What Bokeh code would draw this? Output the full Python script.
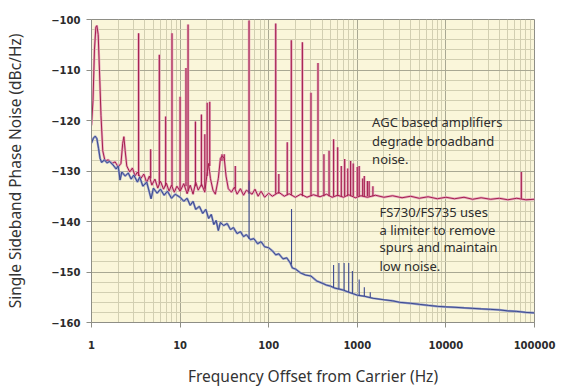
from bokeh.plotting import figure
from bokeh.models import FixedTicker, NumeralTickFormatter, Label
from bokeh.embed import file_html
from bokeh.resources import INLINE

# ---- data ----
agc_freq = [1.0, 1.04, 1.08, 1.12, 1.15, 1.19, 1.23, 1.28, 1.34, 1.42, 1.55, 1.7, 1.85, 2.0, 2.15,
            2.25, 2.32, 2.4, 2.5, 2.7, 2.9, 3.1, 3.3, 3.6, 3.9, 4.2, 4.5, 4.8, 5.2, 5.6, 6.0, 6.5,
            7.0, 7.5, 8.0, 8.6, 9.2, 10, 11, 12, 13, 14, 15, 16, 17.5, 19, 20, 21, 22, 23.5, 25,
            27, 28.5, 30, 31.5, 33, 35, 38, 41, 44, 48, 52, 56, 65, 70, 76, 82, 90, 100, 110, 130,
            150, 170, 200, 230, 270, 320, 380, 450, 520, 600, 700, 800, 950, 1100, 1300, 1600,
            2000, 2500, 3200, 4000, 5000, 6300, 8000, 10000, 12500, 16000, 20000, 25000, 32000,
            40000, 50000, 63000, 80000, 100000]
agc_db = [-121, -116, -106, -101.5, -101.2, -103, -110, -119, -126, -128, -127.8, -128.5, -128.2,
          -129.2, -128.5, -124.5, -123.2, -126, -129, -130.2, -129.4, -131, -130.2, -131.5, -130.6,
          -132.3, -131, -132.8, -131.6, -133.4, -132, -133.6, -132.4, -134, -132.8, -134.2, -133,
          -134, -132.5, -134.5, -132.8, -134.6, -132.2, -133.8, -132.6, -134.2, -131, -128.5,
          -131.5, -133.8, -134.6, -131.5, -127.5, -127, -127.5, -131, -133.5, -134.2, -133.2,
          -134.6, -133.5, -134.8, -133.8, -134.6, -133.6, -135, -134, -135.2, -134.4, -135,
          -134.2, -135, -134.5, -135.2, -134.6, -135.2, -134.7, -135.1, -134.6, -135.2, -134.8,
          -135.2, -134.7, -135.3, -134.9, -135.2, -134.8, -135.2, -134.9, -135.3, -135, -135.4,
          -135.1, -135.5, -135.2, -135.5, -135.2, -135.6, -135.3, -135.6, -135.4, -135.7,
          -135.4, -135.7, -135.6]

agc_spur_freq = [3.4, 4.65, 5.83, 6.87, 8.1, 10.0, 11.65, 12.3, 14.9, 17.4, 19.0, 20.2, 21.6,
                 29.7, 31.5, 42, 60, 120, 130, 162, 180, 240, 300, 360, 420, 480, 540, 600, 660,
                 720, 780, 840, 900, 1000, 1050, 1150, 1200, 1300, 1360, 1500, 71000]
agc_spur_peak = [-102.7, -125.7, -107, -119.2, -102.7, -115.3, -109.6, -101, -120.2, -118.8,
                 -122.7, -116.5, -116.3, -126.7, -126.7, -129, -100.2, -100.8, -130.6, -124.3,
                 -104.1, -104.5, -114.5, -108.6, -126.7, -126, -123.7, -125.3, -129, -127.6,
                 -129.5, -128, -128.5, -129.2, -129, -131.5, -131, -132, -132, -133, -130.2]
agc_spur_base = [-131, -131.5, -132.5, -133, -133, -134, -133, -134, -133, -133, -133.5, -131,
                 -129, -128, -128, -133.5, -134.5, -134.5, -134.5, -134.8, -134.8, -135, -135,
                 -135, -135, -135, -135, -135, -135, -135, -135, -135, -135, -135, -135, -135,
                 -135, -135, -135, -135, -135.5]

fs_freq = [1.0, 1.05, 1.1, 1.15, 1.2, 1.25, 1.3, 1.4, 1.5, 1.6, 1.75, 1.9, 2.0, 2.1, 2.2, 2.4,
           2.6, 2.8, 3.0, 3.3, 3.5, 3.8, 4.2, 4.5, 4.7, 5.0, 5.5, 6.0, 6.6, 7.2, 8.0, 8.8, 10, 11,
           12, 13, 14, 15, 16.5, 18, 19.5, 21, 22.5, 24, 25.5, 27, 28.5, 31, 34, 37, 40, 44, 48,
           52, 56, 62, 68, 75, 82, 90, 100, 110, 120, 130, 145, 160, 175, 185, 200, 230, 260, 300,
           350, 400, 450, 500, 560, 630, 700, 800, 900, 1000, 1200, 1500, 2000, 2500, 3000, 4000,
           5000, 6300, 8000, 10000, 13000, 16000, 20000, 25000, 32000, 40000, 50000, 63000,
           80000, 100000]
fs_db = [-124.5, -123.5, -123.1, -123.6, -125.5, -127.5, -128.3, -127.8, -128.4, -128.1, -128.8,
         -129.6, -129, -131.8, -130.2, -131, -130.4, -131.6, -130.8, -132.2, -131.2, -133, -132.2,
         -134.2, -135.5, -133.4, -134.4, -133.6, -134.8, -134, -135.4, -134.6, -135.2, -136,
         -135.4, -136.8, -136, -137.6, -137, -138.4, -137.6, -139.4, -138.6, -140.6, -139.8,
         -141.8, -140.2, -140.8, -140.4, -141.6, -141.2, -142.4, -142, -143, -142.6, -143.6,
         -143.4, -144.4, -144, -145, -145.2, -145.8, -146.6, -146.4, -147.4, -147.2, -148.2,
         -149.2, -149.4, -150.2, -150.6, -150.8, -151.8, -152.2, -152.6, -152.8, -153.2, -153.4,
         -153.6, -154, -154.3, -154.6, -154.8, -155.2, -155.5, -155.7, -156, -156.2, -156.4,
         -156.6, -156.8, -156.9, -157, -157.1, -157.2, -157.3, -157.4, -157.5, -157.7, -157.8,
         -158, -158.1]

fs_spur_freq = [60, 181, 540, 620, 710, 800, 880, 1050, 1200, 1400]
fs_spur_peak = [-131.9, -137.5, -148.6, -148.2, -148.2, -148.2, -149.8, -151.5, -153, -154]
fs_spur_base = [-143.4, -148.5, -153, -153.3, -153.6, -154, -154.2, -154.6, -154.8, -155]

x_ticks = [1, 10, 100, 1000, 10000, 100000]
y_ticks = [-160, -150, -140, -130, -120, -110, -100]

# ---- figure ----
p = figure(width=564, height=389, x_axis_type="log", x_range=(1, 100000), y_range=(-160, -100),
           output_backend="svg", toolbar_location=None,
           min_border_left=91, min_border_right=30, min_border_top=19, min_border_bottom=64)

p.background_fill_color = "#faf6da"
p.border_fill_color = "white"
p.outline_line_color = "#8e8e86"

x_minor = [d * m for d in [1, 10, 100, 1000, 10000] for m in range(2, 10)]
y_minor = [v for v in range(-160, -99, 2) if v % 10 != 0]
p.xaxis.ticker = FixedTicker(ticks=x_ticks, minor_ticks=x_minor)
p.yaxis.ticker = FixedTicker(ticks=y_ticks, minor_ticks=y_minor)
p.xaxis.formatter = NumeralTickFormatter(format="0")

for g in (p.xgrid, p.ygrid):
    g.grid_line_color = "#a9a893"
    g.grid_line_width = 1
    g.minor_grid_line_color = "#d2cfb2"
    g.minor_grid_line_width = 1

for ax in (p.xaxis, p.yaxis):
    ax.axis_line_color = "#8e8e86"
    ax.major_tick_line_color = "#8e8e86"
    ax.major_tick_in = 0
    ax.major_tick_out = 5
    ax.minor_tick_in = 0
    ax.minor_tick_out = 0
    ax.major_label_text_font = "DejaVu Sans"
    ax.major_label_text_font_style = "bold"
    ax.major_label_text_font_size = "10px"
    ax.major_label_text_color = "#2b2b2b"
    ax.axis_label_text_font = "Noto Sans"
    ax.axis_label_text_font_style = "normal"
    ax.axis_label_text_font_size = "15.5px"
    ax.axis_label_text_color = "#333333"

p.yaxis.major_label_standoff = 6
p.yaxis.axis_label_standoff = 22
p.xaxis.major_label_standoff = 13
p.xaxis.axis_label_standoff = 13
p.yaxis.axis_label = "Single Sideband Phase Noise (dBc/Hz)"
p.xaxis.axis_label = "Frequency Offset from Carrier (Hz)"

# AGC trace (red) with spurs
p.segment(x0=agc_spur_freq, y0=agc_spur_base, x1=agc_spur_freq, y1=agc_spur_peak,
          line_color="#e6aabd", line_width=2.6)
p.line(agc_freq, agc_db, line_color="#e6aabd", line_width=2.4)
p.segment(x0=agc_spur_freq, y0=agc_spur_base, x1=agc_spur_freq, y1=agc_spur_peak,
          line_color="#a51f4e", line_width=1.1)
p.line(agc_freq, agc_db, line_color="#a51f4e", line_width=1.0)

# FS730 trace (blue)
p.line(fs_freq, fs_db, line_color="#949dc8", line_width=2.2)
p.segment(x0=fs_spur_freq, y0=fs_spur_base, x1=fs_spur_freq, y1=fs_spur_peak,
          line_color="#3d4a8f", line_width=1.1)
p.line(fs_freq, fs_db, line_color="#3d4a8f", line_width=1.0)

def note(x, y, t):
    p.add_layout(Label(x=x, y=y, text=t, text_font="Noto Sans", text_font_size="13px",
                       text_color="#2e2e2e", text_baseline="middle", text_align="left"))

note(1470, -120.3, "AGC based amplifiers")
note(1470, -124.0, "degrade broadband")
note(1470, -127.6, "noise.")
note(1780, -138.1, "FS730/FS735 uses")
note(1780, -141.6, "a limiter to remove")
note(1780, -145.1, "spurs and maintain")
note(1780, -148.9, "low noise.")

open("out.html", "w").write(file_html(p, INLINE))
